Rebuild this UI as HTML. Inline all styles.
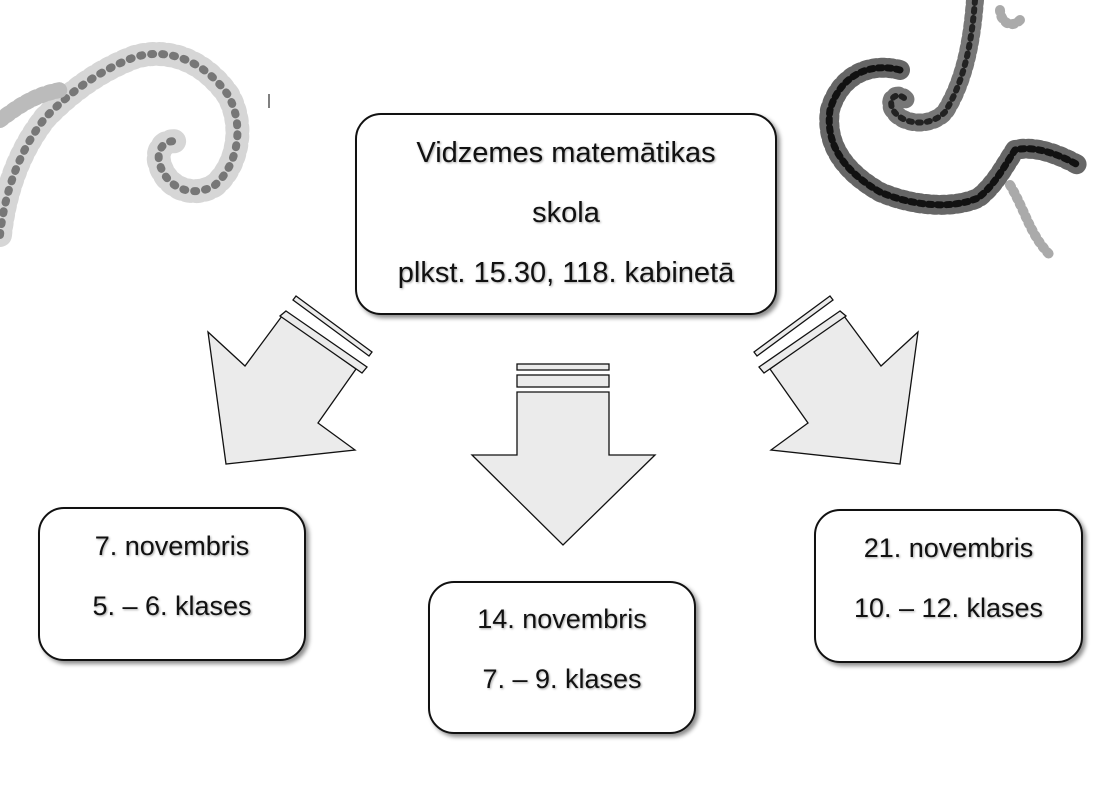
<!DOCTYPE html>
<html><head><meta charset="utf-8"><style>
html,body{margin:0;padding:0;background:#fff;}
body{width:1119px;height:787px;position:relative;overflow:hidden;font-family:"Liberation Sans",sans-serif;}
.box{position:absolute;box-sizing:border-box;border:2px solid #111;border-radius:26px;background:#fff;box-shadow:3px 3px 4px rgba(0,0,0,0.45);text-align:center;color:#111;font-size:27px;text-shadow:1px 1px 2px rgba(0,0,0,0.35);}
.box div{position:absolute;left:0;right:0;}
</style></head><body>
<svg width="1119" height="787" style="position:absolute;left:0;top:0">
<g fill="none" stroke-linecap="round" stroke-linejoin="round">
 <g id="L">
 <path d="M0,235 C5,190 20,150 45,118 C70,92 100,70 135,57 C170,47 205,62 228,95 C245,125 238,165 215,185 C195,198 168,190 160,165 C155,150 165,138 178,142" stroke="#ccc" stroke-width="24" stroke-dasharray="3 6" stroke-opacity="0.8"/>
 <path d="M0,235 C5,190 20,150 45,118 C70,92 100,70 135,57 C170,47 205,62 228,95 C245,125 238,165 215,185 C195,198 168,190 160,165 C155,150 165,138 178,142" stroke="#777" stroke-width="8" stroke-dasharray="2 9"/>
 <path d="M0,120 C20,105 35,95 60,90" stroke="#bbb" stroke-width="16" stroke-dasharray="3 5"/>
 </g>
 <g>
 <path d="M975,0 C972,40 965,80 945,112 C930,128 900,125 892,108 C888,95 900,92 906,100" stroke="#777" stroke-width="18" stroke-dasharray="3 5"/>
 <path d="M975,0 C972,40 965,80 945,112 C930,128 900,125 892,108 C888,95 900,92 906,100" stroke="#222" stroke-width="6" stroke-dasharray="3 6"/>
 <path d="M900,70 C870,62 840,75 830,110 C825,145 845,172 880,192 C910,205 950,210 978,198 C995,185 1005,165 1015,150 C1035,145 1060,155 1078,165" stroke="#666" stroke-width="20" stroke-dasharray="3 5"/>
 <path d="M900,70 C870,62 840,75 830,110 C825,145 845,172 880,192 C910,205 950,210 978,198 C995,185 1005,165 1015,150 C1035,145 1060,155 1078,165" stroke="#111" stroke-width="7" stroke-dasharray="4 5"/>
 <path d="M1010,185 C1025,210 1030,235 1050,255 M1020,20 C1010,30 1000,20 1000,10" stroke="#aaa" stroke-width="10" stroke-dasharray="2 5"/>
 </g>
</g>
<line x1="269" y1="94" x2="269" y2="108" stroke="#000" stroke-width="1"/>
<g fill="#ebebeb" stroke="#111" stroke-width="1.3">
 <polygon points="282,316 356,369 318,423 355,450 226,464 208,332 245,366"/>
 <polygon points="286,311 367,367 362,373 280,316"/>
 <polygon points="296,296 372,352 369,356 293,300"/>
 <g transform="translate(1126,0) scale(-1,1)">
  <polygon points="282,316 356,369 318,423 355,450 226,464 208,332 245,366"/>
  <polygon points="286,311 367,367 362,373 280,316"/>
  <polygon points="296,296 372,352 369,356 293,300"/>
 </g>
 <polygon points="517,392 609,392 609,455 655,455 563,545 472,455 517,455"/>
 <rect x="517" y="375" width="92" height="12"/>
 <rect x="517" y="364" width="92" height="6"/>
</g>
</svg>
<div class="box" style="left:355px;top:113px;width:422px;height:202px;font-size:29px;">
 <div style="top:22px">Vidzemes matemātikas</div>
 <div style="top:82px">skola</div>
 <div style="top:142px">plkst. 15.30, 118. kabinetā</div>
</div>
<div class="box" style="left:38px;top:507px;width:268px;height:154px;">
 <div style="top:22px">7. novembris</div>
 <div style="top:82px">5. – 6. klases</div>
</div>
<div class="box" style="left:428px;top:581px;width:268px;height:153px;">
 <div style="top:21px">14. novembris</div>
 <div style="top:81px">7. – 9. klases</div>
</div>
<div class="box" style="left:814px;top:509px;width:269px;height:154px;">
 <div style="top:22px">21. novembris</div>
 <div style="top:82px">10. – 12. klases</div>
</div>
</body></html>
